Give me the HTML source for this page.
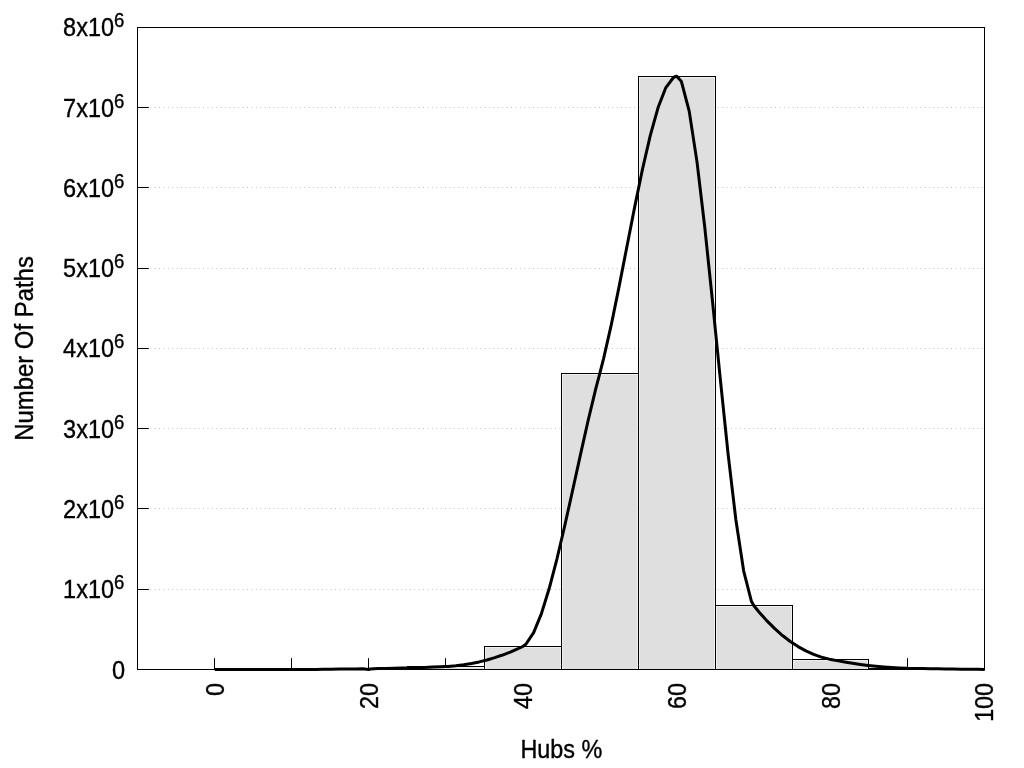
<!DOCTYPE html>
<html><head><meta charset="utf-8"><title>Hubs % histogram</title>
<style>html,body{margin:0;padding:0;background:#fff;width:1024px;height:768px;overflow:hidden}</style></head>
<body>
<svg width="1024" height="768" viewBox="0 0 1024 768" style="position:absolute;left:0;top:0">
<rect width="1024" height="768" fill="#fff"/>
<line x1="137.5" y1="589.5" x2="984.5" y2="589.5" stroke="#c2c2c2" stroke-width="1" stroke-dasharray="1 3.4" stroke-dashoffset="0.5"/>
<line x1="137.5" y1="508.5" x2="984.5" y2="508.5" stroke="#c2c2c2" stroke-width="1" stroke-dasharray="1 3.4" stroke-dashoffset="0.5"/>
<line x1="137.5" y1="428.5" x2="984.5" y2="428.5" stroke="#c2c2c2" stroke-width="1" stroke-dasharray="1 3.4" stroke-dashoffset="0.5"/>
<line x1="137.5" y1="348.5" x2="984.5" y2="348.5" stroke="#c2c2c2" stroke-width="1" stroke-dasharray="1 3.4" stroke-dashoffset="0.5"/>
<line x1="137.5" y1="268.5" x2="984.5" y2="268.5" stroke="#c2c2c2" stroke-width="1" stroke-dasharray="1 3.4" stroke-dashoffset="0.5"/>
<line x1="137.5" y1="187.5" x2="984.5" y2="187.5" stroke="#c2c2c2" stroke-width="1" stroke-dasharray="1 3.4" stroke-dashoffset="0.5"/>
<line x1="137.5" y1="107.5" x2="984.5" y2="107.5" stroke="#c2c2c2" stroke-width="1" stroke-dasharray="1 3.4" stroke-dashoffset="0.5"/>
<line x1="137.5" y1="589.5" x2="148.8" y2="589.5" stroke="#000" stroke-width="1"/>
<line x1="137.5" y1="508.5" x2="148.8" y2="508.5" stroke="#000" stroke-width="1"/>
<line x1="137.5" y1="428.5" x2="148.8" y2="428.5" stroke="#000" stroke-width="1"/>
<line x1="137.5" y1="348.5" x2="148.8" y2="348.5" stroke="#000" stroke-width="1"/>
<line x1="137.5" y1="268.5" x2="148.8" y2="268.5" stroke="#000" stroke-width="1"/>
<line x1="137.5" y1="187.5" x2="148.8" y2="187.5" stroke="#000" stroke-width="1"/>
<line x1="137.5" y1="107.5" x2="148.8" y2="107.5" stroke="#000" stroke-width="1"/>
<line x1="214.5" y1="669.5" x2="214.5" y2="658.2" stroke="#000" stroke-width="1"/>
<line x1="291.5" y1="669.5" x2="291.5" y2="658.2" stroke="#000" stroke-width="1"/>
<line x1="368.5" y1="669.5" x2="368.5" y2="658.2" stroke="#000" stroke-width="1"/>
<line x1="445.5" y1="669.5" x2="445.5" y2="658.2" stroke="#000" stroke-width="1"/>
<line x1="522.5" y1="669.5" x2="522.5" y2="658.2" stroke="#000" stroke-width="1"/>
<line x1="599.5" y1="669.5" x2="599.5" y2="658.2" stroke="#000" stroke-width="1"/>
<line x1="676.5" y1="669.5" x2="676.5" y2="658.2" stroke="#000" stroke-width="1"/>
<line x1="753.5" y1="669.5" x2="753.5" y2="658.2" stroke="#000" stroke-width="1"/>
<line x1="830.5" y1="669.5" x2="830.5" y2="658.2" stroke="#000" stroke-width="1"/>
<line x1="907.5" y1="669.5" x2="907.5" y2="658.2" stroke="#000" stroke-width="1"/>
<rect x="331.5" y="669.5" width="75.0" height="-0.5" fill="#dfdfdf"/>
<rect x="330.5" y="668.5" width="77" height="1.0" fill="none" stroke="#000" stroke-width="1"/>
<rect x="408.5" y="667.5" width="75.0" height="1.5" fill="#dfdfdf"/>
<rect x="407.5" y="666.5" width="77" height="3.0" fill="none" stroke="#000" stroke-width="1"/>
<rect x="485.5" y="647.5" width="75.0" height="21.5" fill="#dfdfdf"/>
<rect x="484.5" y="646.5" width="77" height="23.0" fill="none" stroke="#000" stroke-width="1"/>
<rect x="562.5" y="374.5" width="75.0" height="294.5" fill="#dfdfdf"/>
<rect x="561.5" y="373.5" width="77" height="296.0" fill="none" stroke="#000" stroke-width="1"/>
<rect x="639.5" y="77.5" width="75.0" height="591.5" fill="#dfdfdf"/>
<rect x="638.5" y="76.5" width="77" height="593.0" fill="none" stroke="#000" stroke-width="1"/>
<rect x="716.5" y="606.5" width="75.0" height="62.5" fill="#dfdfdf"/>
<rect x="715.5" y="605.5" width="77" height="64.0" fill="none" stroke="#000" stroke-width="1"/>
<rect x="793.5" y="660.5" width="74.0" height="8.5" fill="#dfdfdf"/>
<rect x="792.5" y="659.5" width="76" height="10.0" fill="none" stroke="#000" stroke-width="1"/>
<rect x="870.5" y="669.5" width="75.0" height="-0.5" fill="#dfdfdf"/>
<rect x="869.5" y="668.5" width="77" height="1.0" fill="none" stroke="#000" stroke-width="1"/>
<rect x="137.5" y="27.5" width="847" height="642" fill="none" stroke="#000" stroke-width="1"/>
<polyline points="214.75,669.49 222.53,669.49 230.31,669.49 238.08,669.49 245.86,669.49 253.64,669.49 261.42,669.49 269.19,669.49 276.97,669.49 284.75,669.49 291.75,669.49 292.53,669.49 300.31,669.48 308.08,669.44 315.86,669.38 323.64,669.31 331.42,669.22 339.19,669.12 346.97,669.01 354.75,668.90 362.53,668.78 368.75,669.47 370.31,669.04 378.08,668.54 385.86,668.41 393.64,668.26 401.42,668.09 409.19,667.90 416.97,667.67 424.75,667.42 432.53,667.12 440.31,666.79 445.75,666.52 448.08,666.39 455.86,665.75 463.64,664.79 471.42,663.51 479.19,661.91 486.97,659.97 494.75,657.68 502.53,655.04 510.31,652.05 518.08,648.69 522.75,646.50 525.86,644.26 533.64,632.66 541.42,613.63 549.19,588.54 556.97,558.78 564.75,525.74 572.53,490.79 580.31,455.33 588.08,420.75 595.86,388.41 599.75,373.53 603.64,358.37 611.42,324.08 619.19,286.08 626.97,246.29 634.75,206.63 642.53,169.01 650.31,135.34 658.08,107.55 665.86,87.55 673.64,77.25 676.75,76.28 681.42,81.54 689.19,111.14 696.97,161.64 704.75,227.10 712.53,301.57 720.31,379.13 728.08,453.82 735.86,519.71 743.64,570.85 751.42,601.31 753.75,605.53 759.19,612.21 766.97,620.91 774.75,628.67 782.53,635.51 790.31,641.47 798.08,646.58 805.86,650.86 813.64,654.37 821.42,657.11 829.19,659.14 830.75,659.46 836.97,660.65 844.75,662.03 852.53,663.28 860.31,664.41 868.08,665.40 875.86,666.26 883.64,666.98 891.42,667.57 899.19,668.01 906.97,668.30 907.75,668.33 914.75,668.43 922.53,668.55 930.31,668.67 938.08,668.78 945.86,668.90 953.64,669.02 961.42,669.14 969.19,669.25 976.97,669.37 984.75,669.49" fill="none" stroke="#000" stroke-width="3" stroke-linejoin="round" stroke-linecap="butt"/>
<text transform="translate(125.2,678.9) scale(0.983,1.045)" text-anchor="end" style="font-family:'Liberation Sans',Arial,sans-serif;font-size:24px;fill:#000;stroke:#000;stroke-width:0.35px">0</text>
<text transform="translate(124.4,597.9) scale(0.979,1.045)" text-anchor="end" style="font-family:'Liberation Sans',Arial,sans-serif;font-size:24px;fill:#000;stroke:#000;stroke-width:0.35px">1x10<tspan dy="-8.6" style="font-size:19px">6</tspan></text>
<text transform="translate(124.4,517.9) scale(0.979,1.045)" text-anchor="end" style="font-family:'Liberation Sans',Arial,sans-serif;font-size:24px;fill:#000;stroke:#000;stroke-width:0.35px">2x10<tspan dy="-8.6" style="font-size:19px">6</tspan></text>
<text transform="translate(124.4,437.9) scale(0.979,1.045)" text-anchor="end" style="font-family:'Liberation Sans',Arial,sans-serif;font-size:24px;fill:#000;stroke:#000;stroke-width:0.35px">3x10<tspan dy="-8.6" style="font-size:19px">6</tspan></text>
<text transform="translate(124.4,356.9) scale(0.979,1.045)" text-anchor="end" style="font-family:'Liberation Sans',Arial,sans-serif;font-size:24px;fill:#000;stroke:#000;stroke-width:0.35px">4x10<tspan dy="-8.6" style="font-size:19px">6</tspan></text>
<text transform="translate(124.4,276.9) scale(0.979,1.045)" text-anchor="end" style="font-family:'Liberation Sans',Arial,sans-serif;font-size:24px;fill:#000;stroke:#000;stroke-width:0.35px">5x10<tspan dy="-8.6" style="font-size:19px">6</tspan></text>
<text transform="translate(124.4,196.9) scale(0.979,1.045)" text-anchor="end" style="font-family:'Liberation Sans',Arial,sans-serif;font-size:24px;fill:#000;stroke:#000;stroke-width:0.35px">6x10<tspan dy="-8.6" style="font-size:19px">6</tspan></text>
<text transform="translate(124.4,116.9) scale(0.979,1.045)" text-anchor="end" style="font-family:'Liberation Sans',Arial,sans-serif;font-size:24px;fill:#000;stroke:#000;stroke-width:0.35px">7x10<tspan dy="-8.6" style="font-size:19px">6</tspan></text>
<text transform="translate(124.4,35.9) scale(0.979,1.045)" text-anchor="end" style="font-family:'Liberation Sans',Arial,sans-serif;font-size:24px;fill:#000;stroke:#000;stroke-width:0.35px">8x10<tspan dy="-8.6" style="font-size:19px">6</tspan></text>
<text transform="translate(224.2,683.0) rotate(-90) scale(0.97,1.045)" text-anchor="end" style="font-family:'Liberation Sans',Arial,sans-serif;font-size:24px;fill:#000;stroke:#000;stroke-width:0.35px">0</text>
<text transform="translate(378.1,683.0) rotate(-90) scale(0.97,1.045)" text-anchor="end" style="font-family:'Liberation Sans',Arial,sans-serif;font-size:24px;fill:#000;stroke:#000;stroke-width:0.35px">20</text>
<text transform="translate(532.1,683.0) rotate(-90) scale(0.97,1.045)" text-anchor="end" style="font-family:'Liberation Sans',Arial,sans-serif;font-size:24px;fill:#000;stroke:#000;stroke-width:0.35px">40</text>
<text transform="translate(686.1,683.0) rotate(-90) scale(0.97,1.045)" text-anchor="end" style="font-family:'Liberation Sans',Arial,sans-serif;font-size:24px;fill:#000;stroke:#000;stroke-width:0.35px">60</text>
<text transform="translate(840.1,683.0) rotate(-90) scale(0.97,1.045)" text-anchor="end" style="font-family:'Liberation Sans',Arial,sans-serif;font-size:24px;fill:#000;stroke:#000;stroke-width:0.35px">80</text>
<text transform="translate(993.1,683.0) rotate(-90) scale(0.97,1.045)" text-anchor="end" style="font-family:'Liberation Sans',Arial,sans-serif;font-size:24px;fill:#000;stroke:#000;stroke-width:0.35px">100</text>
<text transform="translate(561.4,757.6) scale(0.975,1.045)" text-anchor="middle" style="font-family:'Liberation Sans',Arial,sans-serif;font-size:24px;fill:#000;stroke:#000;stroke-width:0.35px">Hubs %</text>
<text transform="translate(33.3,348.5) rotate(-90) scale(0.9965,1.045)" text-anchor="middle" style="font-family:'Liberation Sans',Arial,sans-serif;font-size:24px;fill:#000;stroke:#000;stroke-width:0.35px">Number Of Paths</text>
</svg>
</body></html>
